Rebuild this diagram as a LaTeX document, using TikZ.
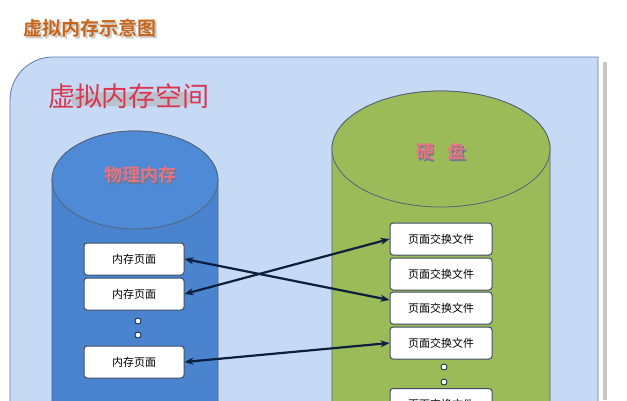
\documentclass[tikz,border=0pt]{standalone}
\usepackage{fontspec}
\newfontfamily\cjk{Noto Sans CJK SC}
\newfontfamily\cjkb{Noto Sans CJK SC Bold}
\usetikzlibrary{arrows.meta}
\definecolor{panel}{HTML}{C6DAF6}
\definecolor{panelline}{HTML}{5A7FB0}
\definecolor{bluecyl}{HTML}{4A84CF}
\definecolor{bluecyltop}{HTML}{4F8AD6}
\definecolor{greencyl}{HTML}{9BBB59}
\definecolor{navy}{HTML}{0E1F3E}
\definecolor{titlec}{HTML}{C8651B}
\definecolor{redt}{HTML}{D9374F}
\tikzset{
  pagebox/.style={draw=navy!80, line width=1pt, fill=white, rounded corners=3pt, minimum width=100pt, minimum height=32pt, inner sep=0pt, font=\cjk\fontsize{11}{11}\selectfont},
  link/.style={{Stealth[length=9pt,width=7pt]}-{Stealth[length=9pt,width=7pt]}, line width=2.2pt, draw=navy},
  dotc/.style={circle, draw=navy, line width=0.8pt, fill=white, minimum size=6pt, inner sep=0pt},
}
\begin{document}
\begin{tikzpicture}[x=1pt,y=-1pt]
\useasboundingbox (0,0) rectangle (627,400);
\fill[white] (0,0) rectangle (627,400);
% panel shadow
\fill[gray!45] (603,62) rectangle (607,400);
% panel
\draw[fill=panel, draw=panelline, line width=0.8pt] (10,405) -- (10,100) arc[start angle=180,end angle=270,radius=43] -- (598,57) -- (598,405);
% title
\node[font=\cjkb\fontsize{19}{19}\selectfont, text=black!40, opacity=0.5] at (92,30) {虚拟内存示意图};
\node (title) [font=\cjkb\fontsize{19}{19}\selectfont, text=titlec] at (90,28) {虚拟内存示意图};
% space label
\fill[gray!60, opacity=0.6, rounded corners=4pt] (72,92) rectangle (190,106);
\node (space) [font=\cjk\fontsize{27}{27}\selectfont, text=redt] at (129,96) {虚拟内存空间};
% left cylinder
\draw[fill=bluecyl, draw=navy!70, line width=0.8pt] (52,405) -- (52,180) arc[start angle=180,end angle=360,x radius=83,y radius=49] -- (218,405);
\draw[fill=bluecyltop, draw=navy!70, line width=0.8pt] (135,180) ellipse[x radius=83,y radius=49];
\node[font=\cjkb\fontsize{18}{18}\selectfont, text=navy!60] at (141.5,176.5) {物理内存};
\node (mem) [font=\cjkb\fontsize{18}{18}\selectfont, text=redt!70] at (140,175) {物理内存};
% right cylinder
\draw[fill=greencyl, draw=navy!70, line width=0.8pt] (332,405) -- (332,149) arc[start angle=180,end angle=360,x radius=109,y radius=58] -- (550,405);
\draw[fill=greencyl, draw=navy!70, line width=0.8pt] (441,149) ellipse[x radius=109,y radius=58];
\node[font=\cjkb\fontsize{18}{18}\selectfont, text=navy!60] at (442.5,153.5) {硬\hspace{14pt}盘};
\node (disk) [font=\cjkb\fontsize{18}{18}\selectfont, text=redt!70] at (441,152) {硬\hspace{14pt}盘};
% left boxes
\node (L1) [pagebox] at (134,259) {内存页面};
\node (L2) [pagebox] at (134,294) {内存页面};
\node (L3) [pagebox] at (134,362) {内存页面};
\node (ld1) [dotc] at (138,321) {};
\node (ld2) [dotc] at (138,335) {};
% right boxes
\node (R1) [pagebox, minimum width=102pt] at (441,239) {页面交换文件};
\node (R2) [pagebox, minimum width=102pt] at (441,274) {页面交换文件};
\node (R3) [pagebox, minimum width=102pt] at (441,308) {页面交换文件};
\node (R4) [pagebox, minimum width=102pt] at (441,343) {页面交换文件};
\node (R5) [pagebox, minimum width=102pt, anchor=north] at (441,388) {页面交换文件};
\node (rd1) [dotc] at (444,367) {};
\node (rd2) [dotc] at (444,382) {};
% arrows
\draw[link] (L1.east) -- ([yshift=8pt]R3.west);
\draw[link] (L2.east) -- (R1.west);
\draw[link] (L3.east) -- (R4.west);
\end{tikzpicture}
\end{document}
